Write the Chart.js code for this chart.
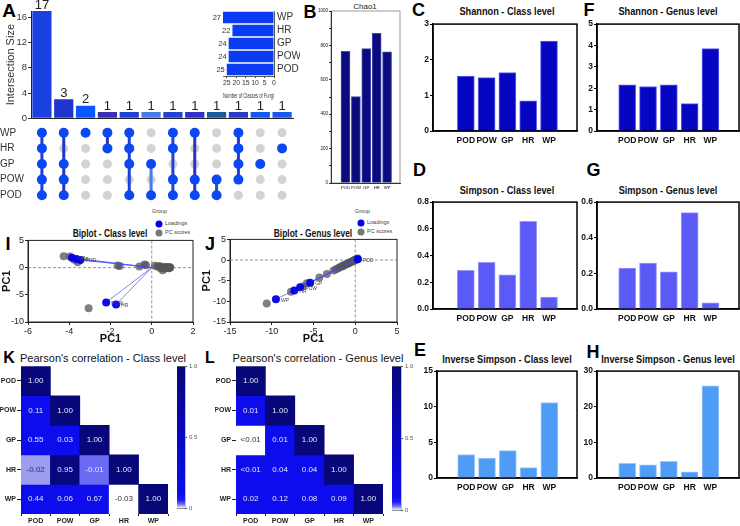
<!DOCTYPE html>
<html>
<head>
<meta charset="utf-8">
<script src="https://cdn.jsdelivr.net/npm/chart.js@4.4.1/dist/chart.umd.min.js"></script>
<style>
body{margin:0;background:#fff;width:740px;height:526px;position:relative;overflow:hidden;font-family:'Liberation Sans',Arial,sans-serif}
canvas{position:absolute}
.c{position:absolute;transform:translate(-50%,-50%);white-space:nowrap;line-height:1}
.n{transform:translate(-50%,-50%) scaleX(0.8)}
.lf{position:absolute;transform:translateY(-50%);white-space:nowrap;line-height:1}
.L{font-weight:bold;font-size:18px;color:#000}
.T{font-weight:bold;font-size:11.5px;color:#111}
.g{font-size:5.5px;color:#444}
.dot{position:absolute;width:7px;height:7px;border-radius:50%;transform:translate(-50%,-50%)}
</style>
</head>
<body>
<!-- panel letters -->
<div class="c L" style="left:9px;top:9.5px;font-size:19px">A</div>
<div class="c L" style="left:310px;top:11.5px">B</div>
<div class="c L" style="left:418.5px;top:9.5px">C</div>
<div class="c L" style="left:589px;top:9.5px">F</div>
<div class="c L" style="left:419.5px;top:170px">D</div>
<div class="c L" style="left:593.5px;top:170px">G</div>
<div class="c L" style="left:420px;top:350px">E</div>
<div class="c L" style="left:593px;top:351.5px">H</div>
<div class="c L" style="left:8px;top:243.5px">I</div>
<div class="c L" style="left:210px;top:244px">J</div>
<div class="c L" style="left:9px;top:357.5px;font-size:16px">K</div>
<div class="c L" style="left:210px;top:357.5px;font-size:16px">L</div>

<!-- panel titles -->
<div class="c" style="left:365px;top:6.5px;font-size:8px;color:#222">Chao1</div>
<div class="c T n" style="left:507px;top:12px">Shannon - Class level</div>
<div class="c T n" style="left:668px;top:12px">Shannon - Genus level</div>
<div class="c T n" style="left:507px;top:190.5px">Simpson - Class level</div>
<div class="c T n" style="left:668px;top:190.5px">Simpson - Genus level</div>
<div class="c T n" style="left:507px;top:359.5px">Inverse Simpson - Class level</div>
<div class="c T n" style="left:668px;top:359.5px">Inverse Simpson - Genus level</div>
<div class="c T n" style="left:110px;top:233px;font-size:10.5px">Biplot - Class level</div>
<div class="c T n" style="left:313px;top:233px;font-size:10.5px">Biplot - Genus level</div>
<div class="c" style="left:103px;top:358px;font-size:11px;color:#111">Pearson's correlation - Class level</div>
<div class="c" style="left:318px;top:358px;font-size:11px;color:#111">Pearson's correlation - Genus level</div>

<!-- biplot legends -->
<div class="c g" style="left:159.5px;top:212px">Group</div>
<div class="dot" style="left:159px;top:224px;background:#0000ee"></div>
<div class="lf g" style="left:165px;top:224px">Loadings</div>
<div class="dot" style="left:159px;top:233px;background:#777"></div>
<div class="lf g" style="left:165px;top:233px">PC scores</div>
<div class="c g" style="left:362.5px;top:212px">Group</div>
<div class="dot" style="left:361px;top:223px;background:#0000ee"></div>
<div class="lf g" style="left:367px;top:223px">Loadings</div>
<div class="dot" style="left:361px;top:232px;background:#777"></div>
<div class="lf g" style="left:367px;top:232px">PC scores</div>

<script>
// ---------- data ----------
var sites = ['POD', 'POW', 'GP', 'HR', 'WP'];

var upsetSets = ['WP', 'HR', 'GP', 'POW', 'POD'];
var upsetSizes = [17, 3, 2, 1, 1, 1, 1, 1, 1, 1, 1, 1];
var upsetMembers = [
    ['WP', 'HR', 'GP', 'POW', 'POD'],
    ['WP', 'GP', 'POW', 'POD'],
    ['WP'],
    ['WP', 'HR'],
    ['WP', 'HR', 'GP', 'POD'],
    ['GP', 'POD'],
    ['WP', 'HR', 'POW', 'POD'],
    ['WP', 'POW', 'POD'],
    ['POW', 'POD'],
    ['WP', 'HR', 'GP', 'POW'],
    ['GP'],
    ['HR']
];
var setTotals = [27, 22, 24, 24, 25];

var chao1 = [766, 502, 781, 870, 763];
var shannonClass = [1.54, 1.50, 1.64, 0.85, 2.52];
var shannonGenus = [2.16, 2.08, 2.16, 1.28, 3.85];
var simpsonClass = [0.29, 0.35, 0.256, 0.657, 0.089];
var simpsonGenus = [0.229, 0.258, 0.208, 0.541, 0.035];
var invSimpsonClass = [3.3, 2.8, 3.85, 1.45, 10.6];
var invSimpsonGenus = [4.1, 3.7, 4.7, 1.7, 25.9];

var classScores = [[-4.27, 2.1], [-3.97, 2.05], [-3.75, 1.45], [-3.59, 1.0], [-1.65, 0.38], [-1.55, 0.3],
    [-0.6, 0.2], [-0.35, 0.55], [-0.28, 0.42], [0.15, 0.35], [0.28, 0.18], [0.38, 0.3], [0.42, -0.1],
    [0.53, -0.48], [0.5, 0.1], [0.58, 0.02], [0.63, -0.15], [0.66, 0.12], [0.7, -0.05], [0.74, 0.05],
    [0.78, -0.02], [0.8, 0.1], [0.83, -0.1], [0.86, 0.03], [0.88, -0.04], [0.9, 0.06], [-3.06, -7.45]];
var classLoadings = [[-3.87, 1.8], [-3.65, 1.6], [-3.46, 1.4], [-2.21, -6.4], [-1.73, -6.8]];
var classLoadingNames = ['WP', 'GP', 'POD', 'POW', 'HR'];

var genusScores = [[-10.6, -10.5], [-7.7, -7.7], [-6.3, -6.4], [-5.8, -5.6], [-4.3, -4.2], [-3.4, -3.4],
    [-2.6, -2.5], [-2.3, -2.25], [-2.05, -2.0], [-1.85, -1.75], [-1.6, -1.55], [-1.5, -1.4], [-1.4, -1.35],
    [-1.25, -1.15], [-1.05, -1.0], [-0.9, -0.85], [-0.8, -0.75], [-0.75, -0.7], [-0.6, -0.55], [-0.45, -0.4],
    [-0.35, -0.3], [-0.25, -0.2], [-0.2, -0.15], [-0.15, -0.1], [-0.05, 0.0], [0.05, 0.1], [0.1, 0.2],
    [0.15, 0.15], [0.25, 0.3], [0.3, 0.35]];
var genusLoadings = [[-9.5, -9.5], [-7.3, -7.4], [-6.6, -6.6], [-5.4, -5.5], [0.3, 0.2]];
var genusLoadingNames = ['WP', 'HR', 'POW', 'GP', 'POD'];

// lower triangle, rows and columns in the order of sites
var classCorr = [[1.00], [0.11, 1.00], [0.55, 0.03, 1.00], [-0.02, 0.95, -0.01, 1.00], [0.44, 0.06, 0.67, -0.03, 1.00]];
var classShade = [[1], [0.1, 1], [0.1, 0.1, 1], [0.02, 0.96, 0.03, 1], [0.1, 0.1, 0.1, 0, 1]];
var genusCorr = [[1.00], [0.01, 1.00], [0.004, 0.01, 1.00], [0.003, 0.04, 0.04, 1.00], [0.02, 0.12, 0.08, 0.09, 1.00]];
var genusShade = [[1], [0.1, 1], [0, 0.1, 1], [0.1, 0.1, 0.1, 1], [0.1, 0.1, 0.1, 0.1, 1]];

// ---------- styles ----------
var sans = "'Liberation Sans', Arial, sans-serif";
var upsetColours = ['#1b40e0', '#2035d0', '#0a55ff', '#3a2fb5', '#1e3fd8', '#4a7aea',
    '#2540d5', '#3030c8', '#1c5a9e', '#2a3acc', '#0f5cf5', '#1a58f0'];
var shadeStops = [[0, '#ffffff'], [0.02, '#9c9cf0'], [0.03, '#6a6af2'], [0.06, '#1c1cf4'],
    [0.1, '#0c0cec'], [0.5, '#0808c0'], [1, '#07077a']];

Chart.defaults.font.family = sans;
Chart.defaults.color = '#222';
Chart.defaults.animation = false;
Chart.defaults.responsive = false;
Chart.defaults.devicePixelRatio = 1;
Chart.defaults.plugins.legend.display = false;
Chart.defaults.plugins.tooltip.enabled = false;

// box frame round the plot area, drawn before the axes
Chart.register({
    id: 'frame',
    beforeDraw: function(chart, args, o) {
        if (!o || !o.color) return;
        var a = chart.chartArea, ctx = chart.ctx;
        ctx.save();
        ctx.strokeStyle = o.color;
        ctx.lineWidth = o.width || 1;
        ctx.strokeRect(a.left, a.top, a.right - a.left, a.bottom - a.top);
        ctx.restore();
    }
});

function hexRgb(h) {
    return [parseInt(h.substr(1, 2), 16), parseInt(h.substr(3, 2), 16), parseInt(h.substr(5, 2), 16)];
}
function shadeColour(v) {
    for (var i = 1; i < shadeStops.length; i++) {
        var a = shadeStops[i - 1], b = shadeStops[i];
        if (v <= b[0]) {
            var t = (v - a[0]) / (b[0] - a[0]);
            var ca = hexRgb(a[1]), cb = hexRgb(b[1]);
            return 'rgb(' + ca.map(function(x, k) { return Math.round(x + (cb[k] - x) * t); }).join(',') + ')';
        }
    }
    return shadeStops[shadeStops.length - 1][1];
}

// canvas placed so that its plot area lands on box.l..box.r / box.t..box.b
function areaCanvas(box) {
    var pl = box.pl || 0, pr = box.pr || 0, pt = box.pt || 0, pb = box.pb || 0;
    var c = document.createElement('canvas');
    c.width = Math.round(pl + (box.yW || 0) + (box.r - box.l) + (box.yR || 0) + pr);
    c.height = Math.round(pt + (box.b - box.t) + (box.xH || 0) + pb);
    c.style.left = (box.l - (box.yW || 0) - pl) + 'px';
    c.style.top = (box.t - pt) + 'px';
    document.body.appendChild(c);
    return c;
}
function pad(box) {
    return {left: box.pl || 0, right: box.pr || 0, top: box.pt || 0, bottom: box.pb || 0};
}

// ---------- A: upset bars ----------
var boxA = {l: 31, t: 11, r: 293, b: 124, yW: 31, xH: 1, pt: 11, pr: 7};
new Chart(areaCanvas(boxA), {
    type: 'bar',
    data: {
        labels: upsetSizes.map(function(v, i) { return 'set' + (i + 1); }),
        datasets: [{data: upsetSizes, backgroundColor: upsetColours, barPercentage: 0.88, categoryPercentage: 1}]
    },
    options: {
        layout: {padding: pad(boxA)},
        scales: {
            x: {
                afterFit: function(s) { s.height = boxA.xH; },
                ticks: {display: false},
                grid: {drawOnChartArea: false, drawTicks: false},
                border: {color: '#222', width: 1}
            },
            y: {
                min: 0, max: 17,
                afterFit: function(s) { s.width = boxA.yW; },
                ticks: {stepSize: 2, includeBounds: false, font: {size: 9.5}, color: '#333', padding: 1},
                grid: {drawOnChartArea: false, tickLength: 3, color: '#333'},
                border: {color: '#222', width: 1},
                title: {display: true, text: 'Intersection Size', font: {size: 11}, color: '#333', padding: {top: 4, bottom: 0}}
            }
        }
    },
    plugins: [{
        id: 'sizeLabels',
        afterDatasetsDraw: function(chart) {
            var ctx = chart.ctx;
            ctx.save();
            ctx.font = '13px ' + sans;
            ctx.fillStyle = '#222';
            ctx.textAlign = 'center';
            ctx.textBaseline = 'bottom';
            chart.getDatasetMeta(0).data.forEach(function(el, i) {
                ctx.fillText(String(upsetSizes[i]), el.x, el.y + 0.5);
            });
            ctx.restore();
        }
    }]
});

// ---------- A: membership matrix ----------
var memberPts = [], allPts = [], links = [];
upsetMembers.forEach(function(m, i) {
    var rows = m.map(function(s) { return upsetSets.indexOf(s); });
    upsetSets.forEach(function(s, r) { allPts.push({x: i, y: r}); });
    rows.forEach(function(r) { memberPts.push({x: i, y: r}); });
    if (rows.length > 1) {
        links.push({
            data: [{x: i, y: Math.min.apply(null, rows)}, {x: i, y: Math.max.apply(null, rows)}],
            showLine: true, borderColor: upsetColours[i], borderWidth: 3, pointRadius: 0
        });
    }
});
var boxM = {l: 31, t: 125, r: 293, b: 203, yW: 31, pr: 8, pt: 8, pb: 8};
new Chart(areaCanvas(boxM), {
    type: 'scatter',
    data: {
        datasets: [{data: memberPts, backgroundColor: '#0b48f2', pointRadius: 5, borderWidth: 0}]
            .concat(links)
            .concat([{data: allPts, backgroundColor: '#d3d3d3', pointRadius: 4.5, borderWidth: 0}])
    },
    options: {
        layout: {padding: pad(boxM)},
        scales: {
            x: {type: 'linear', min: -0.5, max: 11.5, display: false},
            y: {
                type: 'linear', min: -0.5, max: 4.5, reverse: true,
                afterFit: function(s) { s.width = boxM.yW; },
                afterBuildTicks: function(s) { s.ticks = upsetSets.map(function(n, i) { return {value: i}; }); },
                ticks: {font: {size: 10}, color: '#333', padding: 2, crossAlign: 'far', autoSkip: false,
                    callback: function(v) { return upsetSets[v]; }},
                grid: {display: false},
                border: {display: false}
            }
        }
    }
});

// ---------- A: set size inset ----------
var boxS = {l: 223, t: 11, r: 274, b: 76, pl: 23, yR: 26, pt: 11, xH: 24};
new Chart(areaCanvas(boxS), {
    type: 'bar',
    data: {labels: upsetSets, datasets: [{data: setTotals, backgroundColor: '#0a3df3', barPercentage: 0.9, categoryPercentage: 1}]},
    options: {
        indexAxis: 'y',
        layout: {padding: pad(boxS)},
        scales: {
            x: {
                reverse: true, min: 0, max: 27,
                afterFit: function(s) { s.height = boxS.xH; },
                ticks: {stepSize: 5, includeBounds: false, autoSkip: false, font: {size: 6.8}, color: '#333', padding: 1, maxRotation: 0},
                grid: {drawOnChartArea: false, tickLength: 2, color: '#333'},
                border: {color: '#333', width: 0.8},
                title: {display: true, text: 'Number of Classes of Fungi', font: {size: 6.5}, color: '#333', padding: {top: 4, bottom: 0}}
            },
            y: {
                position: 'right',
                afterFit: function(s) { s.width = boxS.yR; },
                ticks: {font: {size: 10}, color: '#333', padding: 3, autoSkip: false},
                grid: {drawOnChartArea: false, drawTicks: false},
                border: {color: '#333', width: 0.8}
            }
        }
    },
    plugins: [{
        id: 'totalLabels',
        afterDatasetsDraw: function(chart) {
            var ctx = chart.ctx;
            ctx.save();
            ctx.font = '7.5px ' + sans;
            ctx.fillStyle = '#333';
            ctx.textAlign = 'right';
            ctx.textBaseline = 'middle';
            chart.getDatasetMeta(0).data.forEach(function(el, i) {
                ctx.fillText(String(setTotals[i]), el.x - 2, el.y);
            });
            ctx.restore();
        }
    }]
});

// ---------- B to H: diversity bars ----------
function alphaChart(box, values, o) {
    return new Chart(areaCanvas(box), {
        type: 'bar',
        data: {
            datasets: [{
                data: values.map(function(v, i) { return {x: i, y: v}; }),
                backgroundColor: o.fill, borderColor: o.edge, borderWidth: 1, barThickness: o.barW
            }]
        },
        options: {
            layout: {padding: pad(box)},
            scales: {
                x: {
                    type: 'linear', min: o.xMin, max: o.xMax,
                    afterFit: function(s) { s.height = box.xH; },
                    afterBuildTicks: function(s) { s.ticks = sites.map(function(n, i) { return {value: i}; }); },
                    ticks: {autoSkip: false, maxRotation: 0, padding: o.xPad, font: o.xFont, color: '#111',
                        callback: function(v) { return sites[v]; }},
                    grid: {drawOnChartArea: false, drawTicks: false},
                    border: {color: o.axis, width: o.axisW}
                },
                y: {
                    min: 0, max: o.yMax,
                    afterFit: function(s) { s.width = box.yW; },
                    ticks: {stepSize: o.yStep, includeBounds: false, font: o.yFont, color: '#111', padding: 1,
                        callback: o.yFmt},
                    grid: {drawOnChartArea: false, tickLength: o.tickLen || 3, color: o.axis, lineWidth: 1},
                    border: {color: o.axis, width: o.axisW}
                }
            },
            plugins: {frame: {color: o.frame, width: o.axisW}}
        }
    });
}

var xBold = {size: 8.5, weight: 'bold'};
var yBold = {size: 8.5, weight: 'bold'};
function plain(v) { return String(v); }
function oneDec(v) { return v.toFixed(1); }

alphaChart({l: 331, t: 11, r: 400, b: 183, yW: 18, xH: 10, pt: 11, pr: 3}, chao1, {
    fill: '#0b0b7e', edge: '#4848b0', barW: 9, xMin: -0.73, xMax: 4.58,
    yMax: 1000, yStep: 100, yFmt: function(v) { return v % 200 === 0 ? String(v) : ''; },
    xFont: {size: 4.2}, yFont: {size: 4.5}, xPad: 2, axis: '#333', axisW: 1, frame: '#999', tickLen: 2
});

var classCD = {xMin: -0.885, xMax: 4.654};
var genusFGH = {xMin: -0.77, xMax: 4.69};
function panelOpts(base, extra) {
    var o = {barW: 17, xFont: xBold, yFont: yBold, xPad: 5, axis: '#000', axisW: 1.5, frame: '#000'};
    [base, extra].forEach(function(src) { for (var k in src) o[k] = src[k]; });
    return o;
}

alphaChart({l: 433, t: 22, r: 577, b: 131, yW: 20, xH: 18, pt: 4, pr: 4}, shannonClass,
    panelOpts(classCD, {fill: '#0606c2', edge: '#6464ee', yMax: 3, yStep: 1, yFmt: plain}));
alphaChart({l: 597, t: 22, r: 739, b: 131, yW: 20, xH: 18, pt: 4, pr: 1}, shannonGenus,
    panelOpts(genusFGH, {fill: '#0606c2', edge: '#6464ee', yMax: 5, yStep: 1, yFmt: plain}));
alphaChart({l: 433, t: 200, r: 577, b: 309, yW: 20, xH: 18, pt: 4, pr: 4}, simpsonClass,
    panelOpts(classCD, {fill: '#5a5af6', edge: '#9a9afa', yMax: 0.8, yStep: 0.2, yFmt: oneDec}));
alphaChart({l: 597, t: 200, r: 739, b: 309, yW: 20, xH: 18, pt: 4, pr: 1}, simpsonGenus,
    panelOpts(genusFGH, {fill: '#5a5af6', edge: '#9a9afa', yMax: 0.6, yStep: 0.2, yFmt: oneDec}));
alphaChart({l: 437, t: 369, r: 577, b: 478, yW: 24, xH: 18, pt: 4, pr: 4}, invSimpsonClass,
    panelOpts({xMin: -0.73, xMax: 4.654}, {fill: '#4f9cf6', edge: '#9cc8fa', yMax: 15, yStep: 5, yFmt: plain}));
alphaChart({l: 597, t: 369, r: 739, b: 478, yW: 24, xH: 18, pt: 4, pr: 1}, invSimpsonGenus,
    panelOpts(genusFGH, {fill: '#4f9cf6', edge: '#9cc8fa', yMax: 30, yStep: 10, yFmt: plain}));

// ---------- I, J: biplots ----------
var zeroLines = {
    id: 'zeroLines',
    beforeDatasetsDraw: function(chart) {
        var ctx = chart.ctx, a = chart.chartArea;
        var x0 = chart.scales.x.getPixelForValue(0), y0 = chart.scales.y.getPixelForValue(0);
        ctx.save();
        ctx.strokeStyle = '#777';
        ctx.lineWidth = 0.8;
        ctx.setLineDash([3, 2]);
        ctx.beginPath();
        ctx.moveTo(x0, a.top); ctx.lineTo(x0, a.bottom);
        ctx.moveTo(a.left, y0); ctx.lineTo(a.right, y0);
        ctx.stroke();
        ctx.restore();
    }
};

function biplot(box, scores, loads, names, o) {
    var arrows = loads.map(function(p) {
        return {data: [{x: 0, y: 0}, {x: p[0], y: p[1]}], showLine: true,
            borderColor: 'rgba(70,70,255,0.75)', borderWidth: 0.9, pointRadius: 0};
    });
    return new Chart(areaCanvas(box), {
        type: 'scatter',
        data: {
            datasets: [{
                data: loads.map(function(p) { return {x: p[0], y: p[1]}; }),
                backgroundColor: 'rgba(0,0,235,0.95)', pointRadius: 4, borderWidth: 0
            }].concat(arrows).concat([{
                data: scores.map(function(p) { return {x: p[0], y: p[1]}; }),
                backgroundColor: 'rgba(85,85,85,0.75)', pointRadius: 4, borderWidth: 0
            }])
        },
        options: {
            layout: {padding: pad(box)},
            scales: {
                x: {
                    min: o.xMin, max: o.xMax,
                    afterFit: function(s) { s.height = box.xH; },
                    ticks: {stepSize: o.xStep, font: {size: 9}, color: '#222', padding: 1, maxRotation: 0},
                    grid: {drawOnChartArea: false, tickLength: 3, color: '#222'},
                    border: {color: '#222', width: 1},
                    title: {display: true, text: 'PC1', font: {size: 11, weight: 'bold'}, color: '#111', padding: {top: 0, bottom: 0}}
                },
                y: {
                    min: o.yMin, max: o.yMax,
                    afterFit: function(s) { s.width = box.yW; },
                    ticks: {stepSize: 5, font: {size: 9}, color: '#222', padding: 1},
                    grid: {drawOnChartArea: false, tickLength: 3, color: '#222'},
                    border: {color: '#222', width: 1},
                    title: {display: true, text: 'PC1', font: {size: 11, weight: 'bold'}, color: '#111', padding: {top: 0, bottom: 0}}
                }
            },
            plugins: {frame: {color: '#222', width: 1}}
        },
        plugins: [zeroLines, {
            id: 'loadNames',
            afterDatasetsDraw: function(chart) {
                var ctx = chart.ctx;
                ctx.save();
                ctx.font = '5px ' + sans;
                ctx.fillStyle = '#444';
                ctx.textBaseline = 'middle';
                chart.getDatasetMeta(0).data.forEach(function(el, i) {
                    ctx.fillText(names[i], el.x + 5, el.y + 1);
                });
                ctx.restore();
            }
        }]
    });
}

biplot({l: 28, t: 239, r: 193, b: 322, yW: 28, xH: 24, pt: 5, pr: 5}, classScores, classLoadings, classLoadingNames,
    {xMin: -6, xMax: 2, xStep: 2, yMin: -10, yMax: 5});
biplot({l: 230, t: 238, r: 397, b: 322, yW: 30, xH: 24, pt: 5, pr: 5}, genusScores, genusLoadings, genusLoadingNames,
    {xMin: -15, xMax: 5, xStep: 5, yMin: -15, yMax: 5});

// ---------- K, L: correlation triangles ----------
function corrText(v) {
    if (v > 0 && v < 0.005) return '<0.01';
    return v.toFixed(2);
}

function heatmap(box, corr, shade) {
    var datasets = sites.map(function(rowName, r) {
        return {
            data: sites.map(function(colName, c) { return c <= r ? [r, r + 1] : null; }),
            backgroundColor: function(ctx) {
                var v = shade[r][ctx.dataIndex];
                return v == null ? 'rgba(0,0,0,0)' : shadeColour(v);
            },
            borderWidth: 0, barPercentage: 1, categoryPercentage: 1, grouped: false
        };
    });
    return new Chart(areaCanvas(box), {
        type: 'bar',
        data: {labels: sites, datasets: datasets},
        options: {
            layout: {padding: pad(box)},
            scales: {
                x: {
                    afterFit: function(s) { s.height = box.xH; },
                    ticks: {font: {size: 7, weight: 'bold'}, color: '#222', padding: 1},
                    grid: {drawOnChartArea: false, tickLength: 2, color: '#222'},
                    border: {display: false}
                },
                y: {
                    min: 0, max: 5, reverse: true,
                    afterFit: function(s) { s.width = box.yW; },
                    afterBuildTicks: function(s) { s.ticks = sites.map(function(n, i) { return {value: i + 0.5}; }); },
                    ticks: {font: {size: 7, weight: 'bold'}, color: '#222', padding: 1,
                        callback: function(v, i) { return sites[i]; }},
                    grid: {drawOnChartArea: false, tickLength: 4, color: '#222'},
                    border: {display: false}
                }
            }
        },
        plugins: [{
            id: 'cellText',
            afterDatasetsDraw: function(chart) {
                var ctx = chart.ctx;
                ctx.save();
                ctx.font = '8px ' + sans;
                ctx.textAlign = 'center';
                ctx.textBaseline = 'middle';
                sites.forEach(function(n, r) {
                    chart.getDatasetMeta(r).data.forEach(function(el, c) {
                        if (c > r) return;
                        ctx.fillStyle = shade[r][c] <= 0.02 ? '#333' : '#e6e6fa';
                        ctx.fillText(corrText(corr[r][c]), el.x, (el.y + el.base) / 2);
                    });
                });
                ctx.restore();
            }
        }]
    });
}

function colourBar(box) {
    return new Chart(areaCanvas(box), {
        type: 'bar',
        data: {
            labels: [''],
            datasets: [{
                data: [[0, 1]], barPercentage: 1, categoryPercentage: 1, borderWidth: 0,
                backgroundColor: function(ctx) {
                    var a = ctx.chart.chartArea;
                    if (!a) return '#0000ff';
                    var g = ctx.chart.ctx.createLinearGradient(0, a.bottom, 0, a.top);
                    shadeStops.forEach(function(s) { g.addColorStop(s[0], s[1]); });
                    return g;
                }
            }]
        },
        options: {
            layout: {padding: pad(box)},
            scales: {
                x: {display: false},
                y: {
                    position: 'right', min: 0, max: 1,
                    afterFit: function(s) { s.width = box.yR; },
                    afterBuildTicks: function(s) { s.ticks = [{value: 0}, {value: 0.5}, {value: 1}]; },
                    ticks: {font: {size: 6}, color: '#555', padding: 2,
                        callback: function(v) { return v === 1 ? '1.0' : String(v); }},
                    grid: {drawOnChartArea: false, tickLength: 2, color: '#555'},
                    border: {display: false}
                }
            },
            plugins: {frame: {color: '#666', width: 0.8}}
        }
    });
}

heatmap({l: 21, t: 365, r: 168, b: 514, yW: 21, xH: 12, pt: 4, pr: 2}, classCorr, classShade);
heatmap({l: 236, t: 365, r: 383, b: 514, yW: 21, xH: 12, pt: 4, pr: 2}, genusCorr, genusShade);
colourBar({l: 177, t: 365, r: 185, b: 510, yR: 16, pt: 4, pb: 4});
colourBar({l: 392, t: 365, r: 401, b: 512, yR: 16, pt: 4, pb: 4});
</script>
</body>
</html>
